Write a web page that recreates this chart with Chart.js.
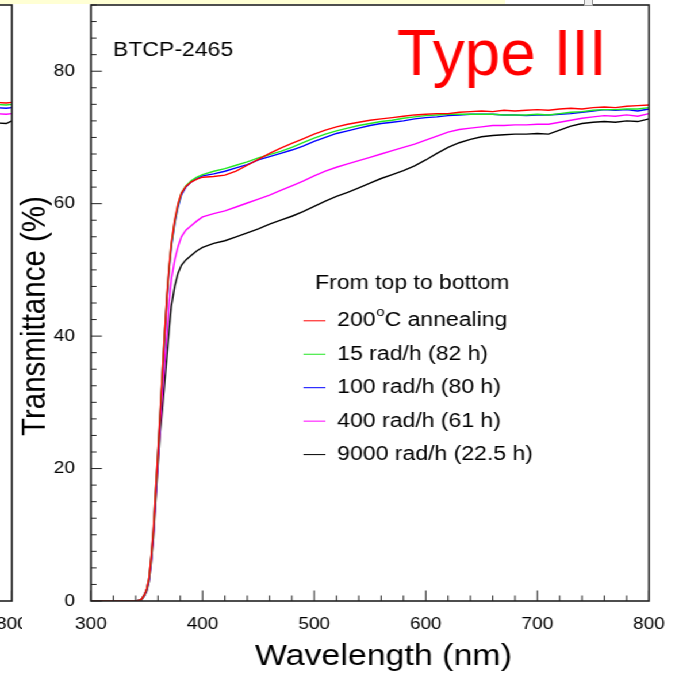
<!DOCTYPE html>
<html lang="en">
<head>
<meta charset="UTF-8">
<title>BTCP-2465 Transmittance - Type III</title>
<script src="https://cdn.jsdelivr.net/npm/chart.js"></script>
<style>
    body { margin: 0; background: #fff; }
    .page { position: relative; width: 675px; height: 676px; overflow: hidden; background: #fff; }
    /* the original figure is stretched sideways, so the drawing is too */
    .stretch { position: absolute; left: 0; top: 0; width: 587px; height: 676px; transform: scaleX(1.1499); transform-origin: 0 0; }
    #main { position: absolute; left: 0; top: 0; }
    .neighbour { position: absolute; left: 0; top: 0; width: 19px; height: 676px; overflow: hidden; }
    #side { position: absolute; left: -554px; top: 0; }
    .strip { position: absolute; left: 0; top: 0; width: 505px; height: 4px; background: #ffffd4; }
    .marker { position: absolute; left: 584px; top: -1px; width: 7px; height: 5px; border: 1px solid #999; background: #eee; }
</style>
</head>
<body>
<div class="page">
    <div class="stretch">
        <div class="neighbour"><canvas id="side" width="587" height="676"></canvas></div>
        <canvas id="main" width="587" height="676"></canvas>
    </div>
    <div class="strip"></div>
    <div class="marker"></div>
</div>

<script>
    // Wavelength grid (nm)
    const wavelengths = [300, 340, 345, 348, 350, 352, 354, 356, 358, 360, 362, 364, 366, 368, 370, 372,
        375, 378, 381, 385, 390, 395, 400, 410, 420, 430, 440, 450, 460, 470, 480, 490, 500, 510, 520,
        530, 540, 550, 560, 570, 580, 590, 600, 610, 620, 630, 640, 650, 660, 670, 680, 690, 700, 710,
        720, 730, 740, 750, 760, 770, 780, 790, 800];

    // Transmittance (%) for each curve
    const annealed = [0, 0, 0.2, 1.0, 1.9, 3.5, 6.8, 11, 17, 22.5, 28.5, 34.5, 40.5, 46, 50.5, 54,
        57.5, 60, 61.6, 62.6, 63.3, 63.7, 64.0, 64.1, 64.3, 64.9, 65.8, 66.7, 67.6, 68.4, 69.1, 69.8, 70.5, 71.1, 71.6,
        72.0, 72.3, 72.6, 72.8, 73.0, 73.2, 73.4, 73.5, 73.6, 73.6, 73.8, 73.9, 74.0, 73.9, 74.1, 74.0, 74.1, 74.2, 74.1,
        74.3, 74.4, 74.3, 74.5, 74.6, 74.5, 74.7, 74.8, 74.9];
    const rate15 = [0, 0, 0.2, 1.0, 1.8, 3.4, 6.6, 10.8, 16.8, 22.3, 28.3, 34.3, 40.3, 45.8, 50.3, 53.8,
        57.3, 59.8, 61.6, 62.7, 63.5, 64.0, 64.4, 64.9, 65.3, 65.8, 66.3, 66.9, 67.4, 67.9, 68.5, 69.2, 69.9, 70.5, 71.0,
        71.4, 71.8, 72.1, 72.4, 72.6, 72.9, 73.1, 73.3, 73.4, 73.5, 73.5, 73.5, 73.5, 73.5, 73.4, 73.4, 73.4, 73.5, 73.4,
        73.6, 73.8, 73.9, 74.1, 74.2, 74.2, 74.3, 74.3, 74.5];
    const rate100 = [0, 0, 0.2, 1.0, 1.8, 3.3, 6.5, 10.6, 16.5, 22.0, 28.0, 34.0, 40.0, 45.5, 50.0, 53.5,
        57.0, 59.5, 61.3, 62.5, 63.3, 63.8, 64.2, 64.5, 64.9, 65.4, 65.9, 66.6, 67.1, 67.6, 68.1, 68.7, 69.4, 70.0, 70.6,
        71.0, 71.4, 71.8, 72.1, 72.3, 72.5, 72.8, 73.0, 73.1, 73.3, 73.4, 73.5, 73.5, 73.5, 73.4, 73.4, 73.3, 73.4, 73.4,
        73.5, 73.6, 73.8, 74.0, 74.2, 74.1, 74.2, 74.0, 74.3];
    const rate400 = [0, 0, 0.2, 0.9, 1.7, 3.1, 6.1, 10.0, 15.8, 21.2, 26.5, 31.0, 36.0, 40.5, 45.0, 48.5,
        51.5, 53.5, 55.0, 56.0, 56.7, 57.4, 58.0, 58.5, 58.9, 59.5, 60.1, 60.7, 61.3, 62.0, 62.7, 63.4, 64.2, 64.9, 65.5,
        66.0, 66.5, 67.0, 67.5, 68.0, 68.5, 69.0, 69.6, 70.2, 70.8, 71.2, 71.4, 71.6, 71.8, 71.8, 71.9, 71.9, 72.0, 72.0,
        72.3, 72.6, 72.9, 73.1, 73.3, 73.2, 73.4, 73.2, 73.6];
    const rate9000 = [0, 0, 0.1, 0.8, 1.5, 2.9, 5.8, 9.6, 15.2, 20.5, 25.5, 29.0, 33.0, 37.0, 41.0, 44.5,
        47.5, 49.5, 50.7, 51.5, 52.2, 52.9, 53.4, 54.0, 54.4, 55.0, 55.6, 56.2, 56.9, 57.5, 58.1, 58.8, 59.6, 60.4, 61.1,
        61.7, 62.4, 63.1, 63.8, 64.4, 65.0, 65.7, 66.6, 67.6, 68.5, 69.2, 69.7, 70.1, 70.3, 70.4, 70.5, 70.5, 70.6, 70.5,
        71.1, 71.7, 72.1, 72.3, 72.4, 72.3, 72.5, 72.4, 72.8];

    // Right end of the neighbouring panel that shows at the left edge
    const sideWavelengths = [770, 785, 795, 800];
    const sideAnnealed = [75.2, 75.3, 75.2, 75.3];
    const side15 = [74.9, 75.0, 74.9, 75.0];
    const side100 = [74.4, 74.5, 74.4, 74.5];
    const side400 = [73.5, 73.6, 73.5, 73.6];
    const side9000 = [72.2, 72.2, 72.1, 72.5];

    const seriesLabels = ['200°C annealing', '15 rad/h (82 h)', '100 rad/h (80 h)', '400 rad/h (61 h)', '9000 rad/h (22.5 h)'];
    const seriesColors = ['#ff0000', '#22e622', '#0000ff', '#ff00ff', '#000000'];

    const xTicks = [300, 400, 500, 600, 700, 800];
    const yTicks = [0, 20, 40, 60, 80];

    const sampleName = 'BTCP-2465';
    const typeLabel = 'Type III';
    const legendHeading = 'From top to bottom';
    const xTitle = 'Wavelength (nm)';
    const yTitle = 'Transmittance (%)';

    const FONT = "'Liberation Sans', Arial, Helvetica, sans-serif";

    function makeDatasets(xs, lists) {
        return lists.map((vals, i) => ({
            label: seriesLabels[i],
            data: xs.map((x, j) => ({ x: x, y: vals[j] })),
            borderColor: seriesColors[i],
            borderWidth: 1.4,
            pointRadius: 0,
            tension: 0,
            fill: false,
        }));
    }

    // frame and inward ROOT-style ticks
    const frameTicks = {
        id: 'frameTicks',
        afterDatasetsDraw(chart) {
            const { ctx, chartArea: a, scales: { x, y } } = chart;
            ctx.save();
            ctx.strokeStyle = '#222';
            ctx.lineWidth = 1;
            ctx.beginPath();
            for (let v = x.min; v <= x.max; v += 20) {
                const px = x.getPixelForValue(v);
                const len = v % 100 === 0 ? 10.5 : 5.5;
                ctx.moveTo(px, a.bottom);
                ctx.lineTo(px, a.bottom - len);
            }
            for (let v = y.min; v <= y.max; v += 2.5) {
                const py = y.getPixelForValue(v);
                const len = v % 20 === 0 ? 9.5 : 4.8;
                ctx.moveTo(a.left, py);
                ctx.lineTo(a.left + len, py);
            }
            ctx.stroke();
            ctx.lineWidth = 1.6;
            ctx.strokeRect(a.left, a.top, a.width, a.height);
            ctx.restore();
        }
    };

    // texts, axis titles and the legend box
    const annotations = {
        id: 'annotations',
        afterDraw(chart) {
            const { ctx } = chart;
            ctx.save();
            ctx.fillStyle = '#000';
            ctx.textBaseline = 'middle';
            ctx.textAlign = 'left';

            ctx.font = '20px ' + FONT;
            ctx.fillText(sampleName, 98.3, 50);

            // the red label is narrower than the rest of the figure
            ctx.fillStyle = '#ff0000';
            ctx.textBaseline = 'alphabetic';
            ctx.font = '64px ' + FONT;
            ctx.fillText(typeLabel, 345.2, 75, 182.6);

            ctx.fillStyle = '#000';
            ctx.font = '29.5px ' + FONT;
            ctx.textAlign = 'right';
            ctx.textBaseline = 'middle';
            ctx.fillText(xTitle, 445.2, 657);

            ctx.save();
            ctx.translate(30.4, 436);
            ctx.rotate(-Math.PI / 2);
            ctx.textAlign = 'left';
            ctx.fillText(yTitle, 0, 0);
            ctx.restore();

            // legend
            ctx.textAlign = 'left';
            ctx.font = '20px ' + FONT;
            ctx.fillText(legendHeading, 274, 283.6);
            chart.data.datasets.forEach((ds, i) => {
                const yy = 320.8 + i * 33.45;
                ctx.strokeStyle = ds.borderColor;
                ctx.lineWidth = 1;
                ctx.beginPath();
                ctx.moveTo(263.9, yy);
                ctx.lineTo(283, yy);
                ctx.stroke();
                const parts = ds.label.split('°');
                let tx = 293.3;
                ctx.font = '20px ' + FONT;
                ctx.fillText(parts[0], tx, yy);
                tx += ctx.measureText(parts[0]).width;
                if (parts.length > 1) {
                    ctx.font = '13px ' + FONT;
                    ctx.fillText('o', tx + 0.5, yy - 8);
                    tx += ctx.measureText('o').width + 0.5;
                    ctx.font = '20px ' + FONT;
                    ctx.fillText('C' + parts[1].slice(1), tx, yy);
                }
            });
            ctx.restore();
        }
    };

    function options() {
        const tickFont = { family: FONT, size: 16.5 };
        return {
            responsive: false,
            animation: false,
            devicePixelRatio: 1,
            layout: { padding: { left: 0, top: 5, right: 22.65, bottom: 0 } },
            plugins: { legend: { display: false }, tooltip: { enabled: false } },
            scales: {
                x: {
                    type: 'linear', min: 300, max: 800,
                    grid: { display: false }, border: { display: false },
                    ticks: { color: '#000', font: tickFont, padding: 6, maxRotation: 0 },
                    afterBuildTicks: s => { s.ticks = xTicks.map(v => ({ value: v })); },
                    afterFit: s => { s.height = 75; s.paddingLeft = 0; s.paddingRight = 0; }
                },
                y: {
                    min: 0, max: 90,
                    grid: { display: false }, border: { display: false },
                    ticks: { color: '#000', font: tickFont, padding: 6 },
                    afterBuildTicks: s => { s.ticks = yTicks.map(v => ({ value: v })); },
                    afterFit: s => { s.width = 79.13; s.paddingTop = 0; s.paddingBottom = 0; }
                }
            }
        };
    }

    new Chart(document.getElementById('main'), {
        type: 'line',
        data: { datasets: makeDatasets(wavelengths, [annealed, rate15, rate100, rate400, rate9000]) },
        options: options(),
        plugins: [frameTicks, annotations]
    });

    new Chart(document.getElementById('side'), {
        type: 'line',
        data: { datasets: makeDatasets(sideWavelengths, [sideAnnealed, side15, side100, side400, side9000]) },
        options: options(),
        plugins: [frameTicks]
    });
</script>
</body>
</html>
